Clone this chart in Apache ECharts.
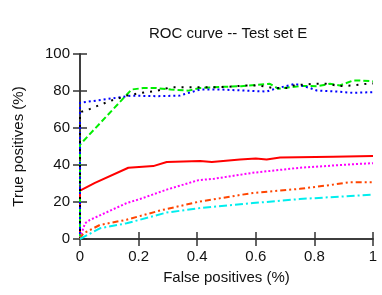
<!DOCTYPE html>
<html><head><meta charset="utf-8">
<script src="https://cdn.jsdelivr.net/npm/echarts@6/dist/echarts.min.js"></script>
<style>html,body{margin:0;padding:0;background:#fff}#c{width:382px;height:295px}</style>
</head><body><div id="c"></div>
<script>
const titleText = "ROC curve -- Test set E";
const xName = "False positives (%)";
const yName = "True positives (%)";
const xTicks = [0, 0.2, 0.4, 0.6, 0.8, 1];
const yTicks = [0, 20, 40, 60, 80, 100];

const greenX = [0, 0, 0.176, 0.216, 0.26, 0.31, 0.37, 0.41, 0.478, 0.55, 0.648, 0.677, 0.751, 0.81, 0.853, 0.887, 0.933, 0.956, 1];
const greenY = [0, 51, 80.8, 81.6, 81.6, 80.8, 80.2, 81.6, 82.2, 82.6, 83.9, 81.2, 82.7, 82.6, 83.9, 83.0, 85.7, 85.7, 85.2];

const blueX = [0, 0, 0.176, 0.26, 0.34, 0.41, 0.478, 0.637, 0.666, 0.734, 0.785, 0.808, 0.876, 0.932, 1];
const blueY = [0, 73.6, 77.5, 77.2, 77.5, 80.8, 80.8, 79.7, 81.2, 83.9, 81.6, 80.3, 79.7, 79.0, 79.4];

const blackX = [0, 0, 0.034, 0.068, 0.11, 0.16, 0.21, 0.26, 0.31, 0.34, 0.489, 0.57, 0.61, 0.66, 0.71, 0.73, 0.796, 0.84, 0.887, 0.93, 0.98, 1];
const blackY = [0, 68.5, 70.3, 72.5, 75, 77.5, 79, 80, 82, 82, 82.1, 83, 83, 81.6, 81.6, 83, 83.9, 83.9, 82.7, 83, 83.9, 84];

const redX = [0, 0, 0.051, 0.165, 0.25, 0.296, 0.41, 0.45, 0.546, 0.6, 0.637, 0.683, 0.864, 1];
const redY = [0, 26.2, 30.3, 38.5, 39.4, 41.6, 42.1, 41.6, 43, 43.5, 43, 44, 44.5, 44.8];

const magentaX = [0, 0.017, 0.034, 0.159, 0.205, 0.296, 0.404, 0.455, 0.59, 0.75, 0.92, 1];
const magentaY = [0.4, 8.5, 10.3, 19.4, 21.6, 26.7, 31.8, 32.5, 35.8, 38.5, 40.3, 41];

const orangeX = [0, 0.011, 0.068, 0.159, 0.273, 0.41, 0.59, 0.75, 0.865, 0.92, 1];
const orangeY = [0, 3, 7.6, 10.4, 15.4, 20.3, 24.9, 27.1, 29.4, 30.7, 30.7];

const cyanX = [0, 0.068, 0.159, 0.296, 0.41, 0.59, 0.75, 1];
const cyanY = [0, 5.8, 8.5, 14.3, 16.7, 19.4, 21.6, 24];

function pairs(xs, ys) { return xs.map((x, i) => [x, ys[i]]); }
function line(name, xs, ys, color, type, z) {
  return { name, type: 'line', data: pairs(xs, ys), showSymbol: false, symbol: 'none',
    lineStyle: { color, width: 2, type }, z: z || 2, animation: false };
}

const font = 'Liberation Sans, Arial, sans-serif';
const chart = echarts.init(document.getElementById('c'));
const tickStyle = { inside: true, length: 7, lineStyle: { color: '#333', width: 1.5 } };
const axisLine = { show: true, lineStyle: { color: '#333', width: 1.5 } };
chart.setOption({
  animation: false,
  title: { text: titleText, left: 144, top: 21, textStyle: { fontFamily: font, fontSize: 15, fontWeight: 'normal', color: '#111' } },
  grid: { left: 80, right: 9, top: 54, bottom: 56, containLabel: false },
  xAxis: [
    { type: 'value', min: 0, max: 1, interval: 0.2, position: 'bottom',
      name: xName, nameLocation: 'middle', nameGap: 31,
      nameTextStyle: { fontFamily: font, fontSize: 15, color: '#111' },
      axisLine, axisTick: tickStyle, splitLine: { show: false },
      axisLabel: { fontFamily: font, fontSize: 15, color: '#111', margin: 10, formatter: v => String(+v.toFixed(1)) } },
    { type: 'value', min: 0, max: 1, interval: 0.2, position: 'top',
      axisLine, axisTick: tickStyle, splitLine: { show: false }, axisLabel: { show: false } }
  ],
  yAxis: [
    { type: 'value', min: 0, max: 100, interval: 20, position: 'left',
      name: yName, nameLocation: 'middle', nameGap: 54, nameRotate: 90,
      nameTextStyle: { fontFamily: font, fontSize: 15, color: '#111' },
      axisLine, axisTick: tickStyle, splitLine: { show: false },
      axisLabel: { fontFamily: font, fontSize: 15, color: '#111', margin: 10 } },
    { type: 'value', min: 0, max: 100, interval: 20, position: 'right',
      axisLine, axisTick: tickStyle, splitLine: { show: false }, axisLabel: { show: false } }
  ],
  series: [
    line('red', redX, redY, '#ff0000', 'solid'),
    line('green', greenX, greenY, '#00ee00', [6, 3]),
    line('blue', blueX, blueY, '#0000ff', [2, 3]),
    line('magenta', magentaX, magentaY, '#ff00ff', [2, 2]),
    line('black', blackX, blackY, '#000000', [2, 6]),
    line('orange', orangeX, orangeY, '#ff4500', [6, 3, 2, 3, 2, 3]),
    line('cyan', cyanX, cyanY, '#00eeee', [8, 3, 2, 3])
  ]
});
</script></body></html>
